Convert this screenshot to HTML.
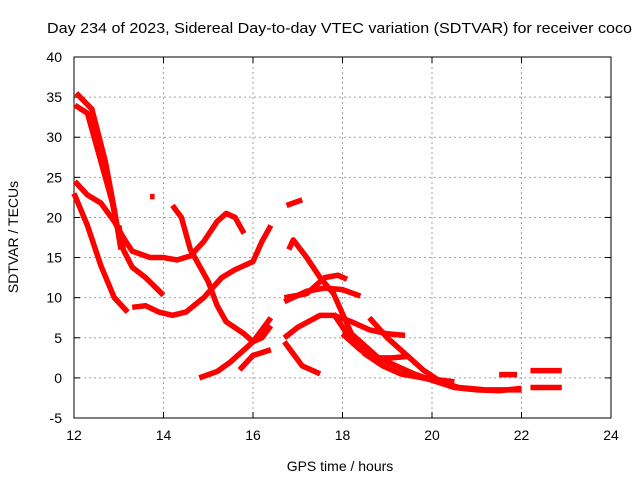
<!DOCTYPE html>
<html><head><meta charset="utf-8"><style>
body{margin:0;background:#fff}
svg text{font-family:"Liberation Sans",sans-serif;font-size:14px;fill:#000}
</style></head><body>
<svg width="640" height="480">
<g id="grid"></g>
<g id="axes"></g>
<g id="series"></g>
<text x="47" y="33" textLength="585" lengthAdjust="spacingAndGlyphs" style="font-size:15px">Day 234 of 2023, Sidereal Day-to-day VTEC variation (SDTVAR) for receiver coco</text>
<text x="340" y="471" text-anchor="middle">GPS time / hours</text>
<text transform="translate(18,237) rotate(-90)" text-anchor="middle">SDTVAR / TECUs</text>
</svg>
<script>
const xTicks=[12,14,16,18,20,22,24];
const yTicks=[-5,0,5,10,15,20,25,30,35,40];
const tracks=[
[[12.05,35.5],[12.4,33.5],[12.7,27],[12.9,21],[13.05,16]],
[[12.02,34],[12.3,33],[12.6,27],[12.85,22],[13.0,18]],
[[12.02,24.5],[12.3,22.8],[12.6,21.8],[12.9,19.5],[13.1,17.5],[13.3,15.8],[13.7,15],[14.0,15],[14.3,14.7],[14.6,15.2],[14.9,17],[15.2,19.5],[15.4,20.5],[15.6,20],[15.8,18]],
[[13.0,19],[13.1,16],[13.3,13.8],[13.6,12.5],[14.0,10.3]],
[[12.0,23],[12.3,19],[12.6,14],[12.9,10],[13.2,8.2]],
[[13.3,8.8],[13.6,9],[13.9,8.2],[14.2,7.8],[14.5,8.2],[14.9,10],[15.3,12.5],[15.6,13.5],[15.8,14],[16.0,14.5],[16.2,17],[16.4,19]],
[[14.2,21.5],[14.4,20],[14.6,16],[14.8,14],[15.0,12],[15.2,9],[15.4,7],[15.8,5.5],[16.0,4.5],[16.2,5],[16.4,6.5]],
[[14.8,0],[15.2,0.8],[15.5,2],[15.8,3.5],[16.0,4.5],[16.4,7.5]],
[[15.7,1.0],[16.0,2.8],[16.4,3.5]],
[[13.7,22.6],[13.8,22.6]],
[[16.75,21.5],[17.1,22.2]],
[[16.8,16],[16.9,17.2],[17.2,15],[17.5,12.5],[17.8,10.5],[18.0,8],[18.2,5.5],[18.5,4],[18.8,2.5],[19.2,1.5],[19.6,0.5],[20,-0.3],[20.5,-1.2],[21,-1.5],[21.5,-1.6],[22,-1.3]],
[[16.7,10],[17.2,10.5],[17.6,12.5],[17.9,12.8],[18.1,12.3]],
[[16.7,9.5],[17.2,10.8],[17.6,11.2],[18.0,11],[18.4,10.2]],
[[16.7,5],[17.0,6.3],[17.5,7.8],[17.8,7.8],[18.2,7],[18.6,6],[19.0,5.5],[19.4,5.3]],
[[16.7,4.5],[16.9,3],[17.1,1.5],[17.5,0.5]],
[[18.0,5.5],[18.4,3.5],[18.8,2.5],[19.1,2.5],[19.5,2.7]],
[[18.6,7.5],[19.0,5],[19.5,2.5],[19.8,1],[20.2,-0.5]],
[[17.8,8],[18.1,5.5],[18.5,3],[18.9,1.5],[19.3,0.5],[19.8,0],[20.2,-0.5],[20.6,-1.2],[21.2,-1.5],[22,-1.5]],
[[19.8,0],[20.5,-0.5]],
[[21.5,0.4],[21.9,0.4]],
[[22.2,0.9],[22.9,0.9]],
[[22.2,-1.2],[22.9,-1.2]]
];
const L=74,R=611,T=57,B=418;
const sx=v=>L+(v-12)/12*(R-L);
const sy=v=>B-(v+5)/45*(B-T);
const NS='http://www.w3.org/2000/svg';
const grid=document.getElementById('grid'),axes=document.getElementById('axes'),ser=document.getElementById('series');
function mk(tag,attrs,parent){const e=document.createElementNS(NS,tag);for(const k in attrs)e.setAttribute(k,attrs[k]);parent.appendChild(e);return e;}
xTicks.forEach(t=>{
 if(t>12&&t<24){const g=mk('line',{x1:sx(t),x2:sx(t),y1:T,y2:B,stroke:'#a0a0a0','stroke-dasharray':'2,3'},grid);
 
 }
 mk('line',{x1:sx(t),x2:sx(t),y1:B,y2:B-6,stroke:'#000'},axes);
 mk('line',{x1:sx(t),x2:sx(t),y1:T,y2:T+6,stroke:'#000'},axes);
 const tx=mk('text',{x:sx(t),y:B+22,'text-anchor':'middle'},axes);tx.textContent=t;
 
 
});
yTicks.forEach(t=>{
 if(t>-5&&t<40){const g=mk('line',{x1:L,x2:R,y1:sy(t),y2:sy(t),stroke:'#a0a0a0','stroke-dasharray':'2,3'},grid);
 
 }
 mk('line',{x1:L,x2:L+6,y1:sy(t),y2:sy(t),stroke:'#000'},axes);
 mk('line',{x1:R,x2:R-6,y1:sy(t),y2:sy(t),stroke:'#000'},axes);
 const tx=mk('text',{x:L-12,y:sy(t)+5,'text-anchor':'end'},axes);tx.textContent=t;
 
 
});
mk('rect',{x:L,y:T,width:R-L,height:B-T,fill:'none',stroke:'#000'},axes);
tracks.forEach((tr,i)=>{
 const p=mk('polyline',{points:tr.map(d=>sx(d[0])+','+sy(d[1])).join(' '),fill:'none',stroke:'#ff0000','stroke-width':5.5,'stroke-linejoin':'round'},ser);
 
 
});
</script>
</body></html>
